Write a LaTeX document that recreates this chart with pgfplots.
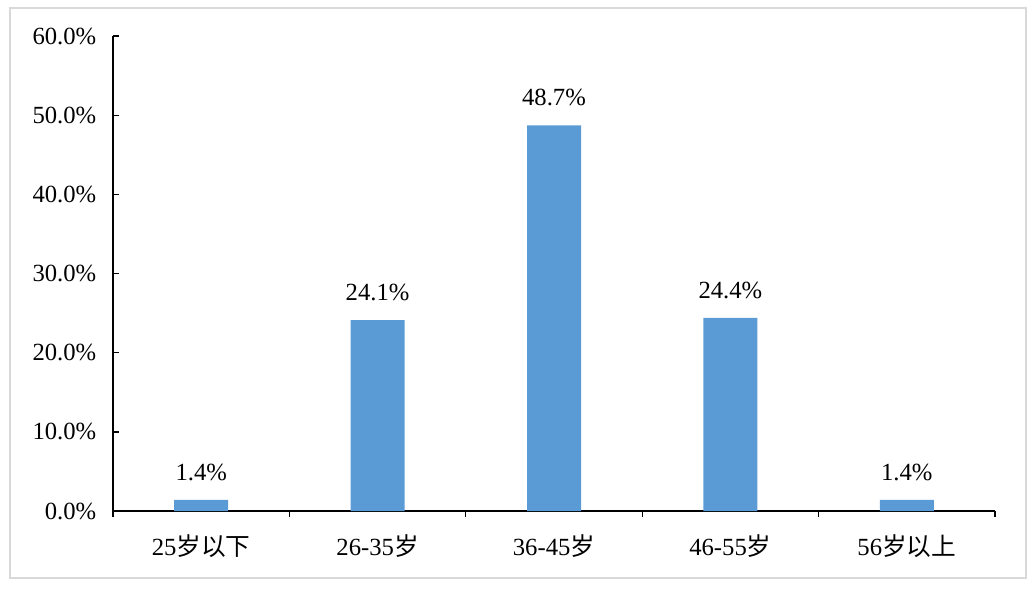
\documentclass[border=0pt]{standalone}
\usepackage{pgfplots}
\pgfplotsset{compat=1.18}
\usepackage{fontspec}
\setmainfont{Liberation Serif}
\newfontfamily\cjk{Noto Sans CJK SC}
\definecolor{barblue}{HTML}{5B9BD5}
\definecolor{framegray}{HTML}{D9D9D9}
\begin{document}
\begin{tikzpicture}[x=0.75pt,y=0.75pt]
\begin{axis}[
  at={(0,0)}, anchor=origin,
  scale only axis,
  width=661.5pt, height=356.25pt,
  xmin=0, xmax=5, ymin=0, ymax=60,
  axis x line=bottom, axis y line=left,
  axis line style={-, black, line width=1.1pt},
  xtick={0.5,1.5,2.5,3.5,4.5},
  xticklabels={25{\cjk 岁以下},26-35{\cjk 岁},36-45{\cjk 岁},46-55{\cjk 岁},56{\cjk 岁以上}},
  major x tick style={draw=none},
  minor xtick={0,1,2,3,4,5},
  minor x tick style={black, line width=1pt},
  minor tick length=4.5pt,
  ytick={0,10,20,30,40,50,60},
  yticklabels={0.0\%,10.0\%,20.0\%,30.0\%,40.0\%,50.0\%,60.0\%},
  major y tick style={black, line width=1pt},
  major tick length=4.5pt,
  tick align=inside,
  ticklabel style={font=\fontsize{18.5}{20}\selectfont, text=black},
  yticklabel style={xshift=-9pt},
  xticklabel style={yshift=-10pt},
  /pgf/number format/assume math mode=true,
  ybar, bar width=40.5pt,
  nodes near coords={\pgfmathprintnumber[fixed,precision=1,zerofill]{\pgfplotspointmeta}\%},
  nodes near coords style={font=\fontsize{18.5}{20}\selectfont, text=black, yshift=11pt},
  clip=false,
]
\addplot[fill=barblue, draw=none] coordinates {(0.5,1.4) (1.5,24.1) (2.5,48.7) (3.5,24.4) (4.5,1.4)};
\end{axis}
\draw[framegray, line width=1.5pt] (-103,-67) rectangle (913,503);
\useasboundingbox (-113,-79) rectangle (922,511);
\end{tikzpicture}
\end{document}
